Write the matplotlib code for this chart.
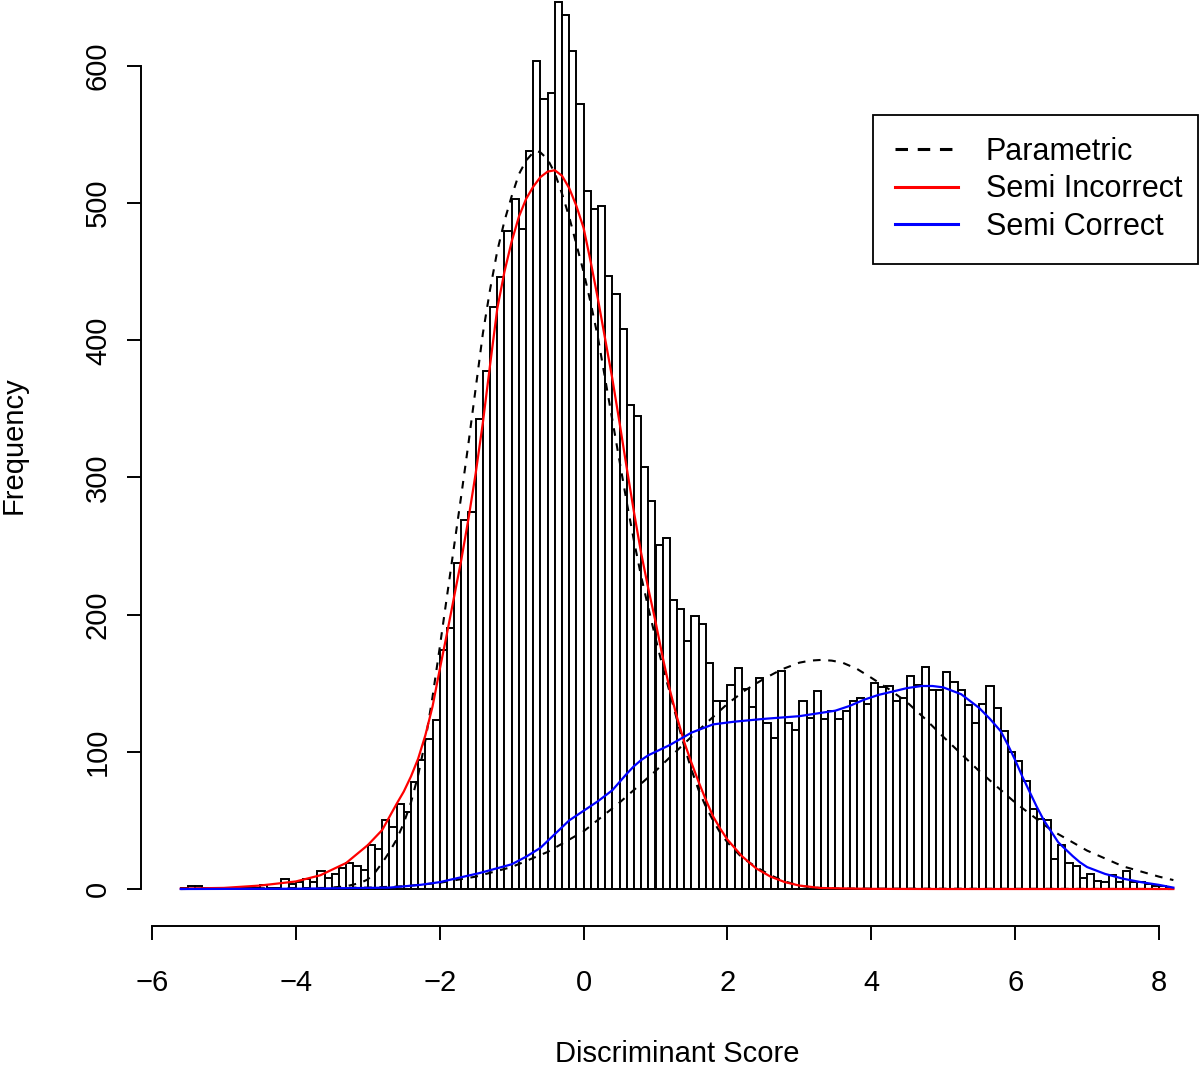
import matplotlib
matplotlib.use("Agg")
import matplotlib.pyplot as plt
from matplotlib.lines import Line2D

plt.rcParams['font.family'] = ['Liberation Sans', 'DejaVu Sans']
plt.rcParams['lines.scale_dashes'] = False

# ---------------- data ----------------
bin_start = -5.6
bin_width = 0.1
counts = [
    1, 2, 2, 1, 0, 1, 0, 1, 1, 1,
    1, 3, 1, 1, 7, 4, 5, 7, 5, 13,
    8, 11, 15, 19, 17, 14, 32, 29, 50, 45,
    62, 56, 78, 94, 109, 123, 174, 190, 238, 269,
    275, 343, 378, 424, 446, 480, 503, 481, 538, 604,
    576, 580, 647, 637, 611, 572, 509, 496, 498, 447,
    434, 408, 353, 345, 308, 283, 251, 256, 211, 204,
    181, 199, 193, 165, 137, 137, 149, 161, 146, 133,
    154, 121, 110, 159, 121, 116, 137, 125, 144, 124,
    130, 124, 130, 137, 139, 135, 150, 147, 148, 137,
    139, 155, 149, 162, 145, 145, 158, 151, 145, 134,
    121, 135, 148, 132, 115, 100, 93, 79, 58, 51,
    50, 22, 32, 19, 17, 8, 11, 6, 5, 10,
    5, 13, 5, 5, 4, 2, 2, 1,
]

# Parametric fit, first component (black dashed)
par1_x = [-5.6, -3.6, -3.3, -3.1, -3.0, -2.9, -2.8, -2.7, -2.6, -2.5, -2.4, -2.3,
          -2.2, -2.1, -2.0, -1.9, -1.8, -1.7, -1.6, -1.5, -1.4, -1.3, -1.2, -1.1,
          -1.0, -0.9, -0.8, -0.7, -0.65, -0.6, -0.5, -0.4, -0.3, -0.2, -0.1, 0.0,
          0.1, 0.2, 0.3, 0.4, 0.5, 0.6, 0.7, 0.8, 0.9, 1.0, 1.1, 1.2, 1.3, 1.4,
          1.5, 1.6, 1.7, 1.8, 1.9, 2.0, 2.2, 2.4, 2.6, 2.8, 3.0, 3.2, 3.5, 8.2]
par1_y = [0, 0.5, 2, 4.5, 7, 12, 19, 27, 36, 48, 63, 83,
          108, 140, 176, 213, 250, 287, 325, 365, 405, 437, 465, 487,
          505, 521, 531, 537, 538, 537, 532, 522, 507, 490, 470, 450,
          427, 402, 372, 342, 312, 282, 254, 228, 205, 183, 162, 143, 123, 104,
          87, 72, 60, 50, 41, 34, 23, 16, 10, 5.5, 2.5, 1, 0.3, 0]

# Parametric fit, second component (black dashed)
par2_x = [-5.6, -3.0, -2.5, -2.0, -1.5, -1.0, -0.5, 0.0, 0.5, 1.0, 1.5, 2.0,
          2.25, 2.5, 2.75, 3.0, 3.15, 3.3, 3.45, 3.6, 3.8, 4.0, 4.25, 4.5, 4.75,
          5.0, 5.5, 6.0, 6.5, 7.0, 7.5, 8.0, 8.2]
par2_y = [0, 1, 2, 4.5, 9, 16, 27, 42, 63, 86, 111, 135,
          145, 153, 160, 165, 166.5, 167, 166.5, 165, 160.5, 154, 145.5, 136, 124,
          111, 86, 63, 43, 28, 16.5, 9, 6.5]

# Semi Incorrect (red)
red_x = [-5.6, -5.0, -4.5, -4.0, -3.66, -3.3, -3.0, -2.8, -2.6, -2.5, -2.4, -2.3,
         -2.2, -2.1, -2.0, -1.9, -1.8, -1.7, -1.6, -1.5, -1.4, -1.3, -1.2, -1.1,
         -1.0, -0.9, -0.8, -0.7, -0.6, -0.5, -0.4, -0.3, -0.2, -0.1, 0.0, 0.1,
         0.2, 0.3, 0.4, 0.5, 0.6, 0.7, 0.8, 0.9, 1.0, 1.1, 1.2, 1.3, 1.4, 1.5,
         1.6, 1.7, 1.8, 1.9, 2.0, 2.2, 2.4, 2.6, 2.8, 3.0, 3.3, 4.0, 5.0, 8.2]
red_y = [0.3, 0.8, 2.5, 5.5, 10, 19, 32, 43, 62, 71, 82, 95,
         112, 133, 160, 186, 213, 240, 270, 303, 340, 382, 423, 450,
         472, 490, 503, 512, 519, 523, 524, 520, 511, 498, 482, 457,
         430, 401, 372, 340, 307, 275, 245, 219, 195, 169, 145, 125, 107, 92,
         78, 65, 53, 44, 36, 24, 15, 9, 5, 2.5, 0.7, 0.1, 0, 0]

# Semi Correct (blue)
blue_x = [-5.6, -4.0, -3.0, -2.7, -2.27, -2.0, -1.44, -1.0, -0.8, -0.6, -0.4, -0.2,
          0.0, 0.2, 0.4, 0.5, 0.6, 0.7, 0.8, 0.9, 1.0, 1.2, 1.5, 1.8, 2.1, 2.5,
          3.0, 3.5, 3.7, 3.9, 4.1, 4.3, 4.5, 4.7, 4.85, 5.0, 5.25, 5.5, 5.65,
          5.8, 5.9, 6.0, 6.1, 6.2, 6.3, 6.4, 6.5, 6.6, 6.7, 6.8, 6.9, 7.0, 7.25,
          7.5, 7.75, 8.0, 8.2]
blue_y = [0, 0.2, 0.8, 1, 3, 5, 11.7, 18, 23.5, 30, 40, 50,
          57, 64, 72, 78, 84, 89.5, 94, 97.5, 100, 105, 114, 120, 122, 124,
          126, 130, 133.5, 138, 141.5, 144, 146.5, 148, 148, 147, 142, 132, 124,
          115, 105, 94, 82, 71, 60, 50, 42, 34, 29, 24, 19.5, 16, 11,
          7.5, 5, 3, 1]

legend_labels = ["Parametric", "Semi Incorrect", "Semi Correct"]
x_ticks = [-6, -4, -2, 0, 2, 4, 6, 8]
y_ticks = [0, 100, 200, 300, 400, 500, 600]

# ---------------- figure ----------------
W, H = 1200, 1067
fig = plt.figure(figsize=(W / 100, H / 100), dpi=100)
ax = fig.add_axes([0, 0, 1, 1])
ax.patch.set_alpha(0)

# pixel mapping: x=-6 -> 152 px, x=8 -> 1159 px ; y=0 -> 889 px, y=600 -> 66 px
px_per_x = (1159 - 152) / 14.0
px_per_y = (889 - 66) / 600.0
ax.set_xlim(-6 - 152 / px_per_x, -6 + (W - 152) / px_per_x)
ax.set_ylim(-(H - 889) / px_per_y, 889 / px_per_y)

lefts = [bin_start + i * bin_width for i in range(len(counts))]
ax.bar(lefts, counts, width=bin_width, align='edge', facecolor='white',
       edgecolor='black', linewidth=1.4, zorder=2)

ax.plot(par1_x, par1_y, color='black', lw=1.5, dashes=(5.5, 5.5), zorder=3)
ax.plot(par2_x, par2_y, color='black', lw=1.5, dashes=(5.5, 5.5), zorder=3)
ax.plot(red_x, red_y, color='#ff0000', lw=1.6, zorder=4)
ax.plot(blue_x, blue_y, color='#0000ff', lw=1.6, zorder=4)

# axes in R style
for s in ['top', 'right']:
    ax.spines[s].set_visible(False)
ax.spines['left'].set_position(('data', -6.152))
ax.spines['left'].set_bounds(0, 600)
ax.spines['bottom'].set_position(('data', -27))
ax.spines['bottom'].set_bounds(-6, 8)
for s in ['left', 'bottom']:
    ax.spines[s].set_linewidth(1.4)
ax.set_xticks(x_ticks)
ax.set_yticks(y_ticks)
ax.tick_params(axis='both', direction='out', length=10, width=1.4,
               labelsize=21, color='black')
ax.tick_params(axis='x', pad=21)
ax.tick_params(axis='y', pad=11, labelrotation=90)
for lab in ax.get_yticklabels():
    lab.set_va('center')

ax.text(1.3, -120.5, "Discriminant Score", fontsize=21, ha='center', va='center')
ax.text(-7.919, 323.7, "Frequency", fontsize=21, ha='center', va='center',
        rotation=90)

handles = [
    Line2D([], [], color='black', lw=2.2, dashes=(9, 7)),
    Line2D([], [], color='#ff0000', lw=2.2),
    Line2D([], [], color='#0000ff', lw=2.2),
]
leg = ax.legend(handles, legend_labels, loc='upper left',
                bbox_to_anchor=(873 / W, 1 - 265 / H, 325 / W, 150 / H),
                bbox_transform=fig.transFigure, mode='expand',
                borderaxespad=0, fontsize=22, handlelength=2.05, handletextpad=0.92,
                borderpad=0.72, labelspacing=0.245, fancybox=False, framealpha=1,
                edgecolor='black')
leg.get_frame().set_linewidth(1.3)

fig.savefig("out.png", dpi=100)
